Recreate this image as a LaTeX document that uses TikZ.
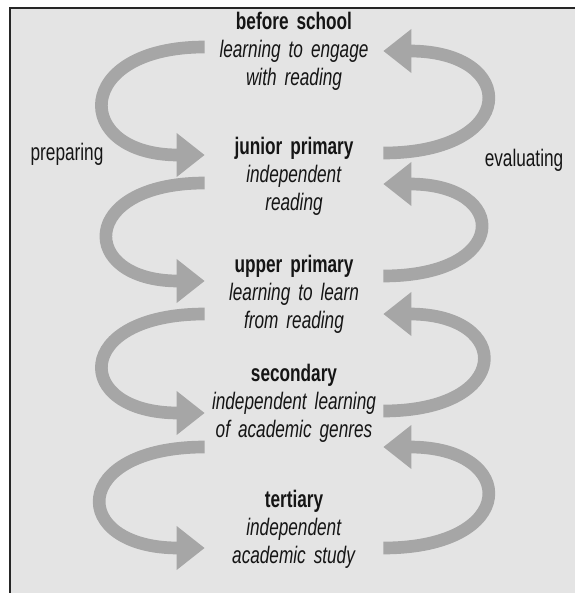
\documentclass[tikz,border=0pt]{standalone}
\usepackage{fontspec}
\setmainfont[FakeStretch=0.72]{Liberation Sans}
\usetikzlibrary{arrows.meta}
\usetikzlibrary{calc}
\definecolor{paper}{HTML}{E4E4E4}
\definecolor{band}{HTML}{A6A6A6}
\definecolor{ink}{HTML}{151515}
\tikzset{
  stage/.style={text width=4.45cm, align=center, inner sep=0pt, text=ink, font=\fontsize{17}{20}\selectfont},
  side/.style={text=ink, inner sep=0pt, font=\fontsize{17}{20}\selectfont},
  flow/.style={draw=band, line width=9pt, -{Triangle[length=20pt,width=30pt]}}
}
\begin{document}
\begin{tikzpicture}[x=0.025cm,y=-0.025cm]
\useasboundingbox (0,0) rectangle (575,593);
\fill[paper] (10,8) rectangle (575,593);
\draw[line width=1.5pt, black!85] (10,593) -- (10,8) -- (575,8);
\node[stage](before) at (294,51){\textbf{before school}\\\textit{learning to engage}\\\textit{with reading}};
\node[stage](junior) at (294,176){\textbf{junior primary}\\\textit{independent}\\\textit{reading}};
\node[stage](upper) at (294,294){\textbf{upper primary}\\\textit{learning to learn}\\\textit{from reading}};
\node[stage](second) at (294,403){\textbf{secondary}\\\textit{independent learning}\\\textit{of academic genres}};
\node[stage](tertiary) at (294,529){\textbf{tertiary}\\\textit{independent}\\\textit{academic study}};
\node[side, anchor=base](prep) at (67,160){preparing};
\node[side, anchor=base](eval) at (524,166){evaluating};
% preparing
\draw[flow] ($(before.west)+(0,-4)$) .. controls +(-133,0) and +(-133,0) .. ($(junior.west)+(0,-21)$);
\draw[flow] ($(junior.west)+(0,7)$) .. controls +(-127,0) and +(-127,0) .. ($(upper.west)+(0,-13)$);
\draw[flow] ($(upper.west)+(0,20)$) .. controls +(-133,0) and +(-133,0) .. ($(second.west)+(0,10)$);
\draw[flow] ($(second.west)+(0,44)$) .. controls +(-136,0) and +(-136,0) .. ($(tertiary.west)+(0,19)$);
% evaluating
\draw[flow] ($(junior.east)+(0,-23)$) .. controls +(136,0) and +(136,0) .. ($(before.east)+(0,0)$);
\draw[flow] ($(upper.east)+(0,-18)$) .. controls +(127,0) and +(127,0) .. ($(junior.east)+(0,8)$);
\draw[flow] ($(second.east)+(0,8)$) .. controls +(130,0) and +(130,0) .. ($(upper.east)+(0,20)$);
\draw[flow] ($(tertiary.east)+(0,19)$) .. controls +(136,0) and +(136,0) .. ($(second.east)+(0,44)$);
\end{tikzpicture}
\end{document}
